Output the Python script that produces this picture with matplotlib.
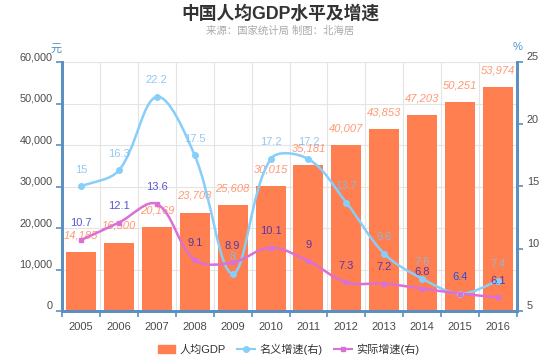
import numpy as np
import matplotlib
matplotlib.use("Agg")
import matplotlib.pyplot as plt
from matplotlib.path import Path
from matplotlib.patches import PathPatch, Patch
from matplotlib.lines import Line2D
import matplotlib.transforms as mtransforms

plt.rcParams['font.family'] = ['Liberation Sans', 'Noto Sans CJK SC']

# 数据
years = ['2005', '2006', '2007', '2008', '2009', '2010',
         '2011', '2012', '2013', '2014', '2015', '2016']
gdp_per_capita = [14185, 16500, 20169, 23708, 25608, 30015,
                  35181, 40007, 43853, 47203, 50251, 53974]
nominal_growth = [15, 16.3, 22.2, 17.5, 8, 17.2, 17.2, 13.7, 9.6, 7.6, 6.4, 7.4]
real_growth = [10.7, 12.1, 13.6, 9.1, 8.9, 10.1, 9, 7.3, 7.2, 6.8, 6.4, 6.1]

left_ticks = [0, 10000, 20000, 30000, 40000, 50000, 60000]
right_ticks = [5, 10, 15, 20, 25]

C_BAR = '#ff7f50'
C_NOM = '#87cefa'
C_REAL = '#da70d6'
C_AXIS = '#5a8fc0'


def smooth_path(xs, ys, sx, sy, smooth=0.35):
    # echarts 风格的贝塞尔平滑, 在像素尺度上计算控制点
    pts = np.column_stack([np.asarray(xs, float) * sx, np.asarray(ys, float) * sy])
    n = len(pts)
    verts = [pts[0]]
    codes = [Path.MOVETO]
    cps = []
    for i in range(n):
        p0 = pts[max(i - 1, 0)]
        p1 = pts[i]
        p2 = pts[min(i + 1, n - 1)]
        v = (p2 - p0) * smooth
        d0 = np.hypot(*(p1 - p0))
        d1 = np.hypot(*(p2 - p1))
        s = d0 + d1
        if s > 0:
            d0, d1 = d0 / s, d1 / s
        cps.append((p1 - v * d0, p1 + v * d1))
    for i in range(n - 1):
        verts += [cps[i][1], cps[i + 1][0], pts[i + 1]]
        codes += [Path.CURVE4] * 3
    verts = np.array(verts)
    verts[:, 0] /= sx
    verts[:, 1] /= sy
    return Path(verts, codes)


fig = plt.figure(figsize=(5.6, 3.62), dpi=100)
ax = fig.add_axes([62 / 560, 1 - 311 / 362, 455 / 560, 249 / 362])
ax2 = ax.twinx()

x = np.arange(len(years))
ax.bar(x, gdp_per_capita, width=0.79, color=C_BAR, zorder=2)
ax.set_xlim(-0.5, len(years) - 0.5)
ax.set_ylim(0, 60000)
ax2.set_ylim(5, 25)
ax2.set_xlim(-0.5, len(years) - 0.5)

# 网格
ax.set_yticks(left_ticks)
ax.set_yticklabels(['{:,}'.format(t) for t in left_ticks])
ax.grid(axis='y', color='#e4e4e4', lw=0.8, zorder=0)
for b in np.arange(-0.5, len(years), 1):
    ax.axvline(b, color='#e4e4e4', lw=0.8, zorder=0)
ax.set_axisbelow(True)

ax.set_xticks(x)
ax.set_xticklabels(years)
ax.set_xticks(np.arange(-0.5, len(years), 1), minor=True)
ax.tick_params(axis='x', which='major', length=0, labelsize=8, labelcolor='#4a4a4a', pad=8)
ax.tick_params(axis='x', which='minor', length=4, color=C_AXIS, width=1.2)
ax.tick_params(axis='y', length=4, color=C_AXIS, width=1.2, labelsize=7.8, labelcolor='#4a4a4a', pad=3)
ax2.set_yticks(right_ticks)
ax2.tick_params(axis='y', length=4, color=C_AXIS, width=1.2, labelsize=7.8, labelcolor='#4a4a4a', pad=3)

for a in (ax, ax2):
    a.spines['top'].set_visible(False)
    for s in ('left', 'right', 'bottom'):
        a.spines[s].set_color(C_AXIS)
        a.spines[s].set_linewidth(2)

# 刻度标签略微上移
offset = mtransforms.ScaledTranslation(0, 4 / 72, fig.dpi_scale_trans)
for lab in ax.get_yticklabels() + ax2.get_yticklabels():
    lab.set_transform(lab.get_transform() + offset)

# 平滑折线
sx, sy = 455 / 12, 249 / 20
ax2.add_patch(PathPatch(smooth_path(x, nominal_growth, sx, sy), fill=False,
                        edgecolor=C_NOM, lw=1.8, zorder=4))
ax2.add_patch(PathPatch(smooth_path(x, real_growth, sx, sy), fill=False,
                        edgecolor=C_REAL, lw=1.8, zorder=4))
ax2.plot(x, nominal_growth, 'o', color=C_NOM, ms=4, zorder=5)
ax2.plot(x, real_growth, 's', color=C_REAL, ms=3.5, zorder=5)

# 数据标签
for xi, v in zip(x, gdp_per_capita):
    ax.annotate('{:,}'.format(v), (xi, v), xytext=(0, 12), textcoords='offset points',
                ha='center', va='center', fontsize=8, style='italic',
                color=C_BAR, alpha=0.8, zorder=6)
for xi, v in zip(x, nominal_growth):
    ax2.annotate('{:g}'.format(v), (xi, v), xytext=(0, 12), textcoords='offset points',
                 ha='center', va='center', fontsize=8, color='#7ec0ee', alpha=0.85, zorder=6)
for xi, v in zip(x, real_growth):
    ax2.annotate('{:g}'.format(v), (xi, v), xytext=(0, 12), textcoords='offset points',
                 ha='center', va='center', fontsize=8, color='#2020c0', alpha=0.75, zorder=6)

# 标题
fig.text(0.5, 1 - 14 / 362, '中国人均GDP水平及增速', ha='center', va='center',
         fontsize=12.8, fontweight='bold', color='#333')
fig.text(0.5, 1 - 31 / 362, '来源：国家统计局 制图：北海居', ha='center', va='center',
         fontsize=7.5, color='#aaa')
fig.text(56 / 560, 1 - 49 / 362, '元', ha='center', va='center', fontsize=8, color='#4a90c8')
fig.text(518 / 560, 1 - 47 / 362, '%', ha='center', va='center', fontsize=8, color='#4a90c8')

# 图例
handles = [Patch(color=C_BAR),
           Line2D([], [], color=C_NOM, marker='o', ms=4, lw=1.5),
           Line2D([], [], color=C_REAL, marker='s', ms=3.5, lw=1.5)]
fig.legend(handles, ['人均GDP', '名义增速(右)', '实际增速(右)'], loc='center',
           bbox_to_anchor=(0.515, 1 - 349 / 362), ncol=3, frameon=False,
           fontsize=8, handlelength=1.6, handletextpad=0.4, columnspacing=1.0,
           labelcolor='#333')

fig.savefig('out.png', dpi=100)
